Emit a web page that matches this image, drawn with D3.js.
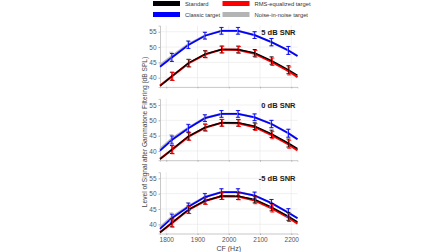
<!DOCTYPE html>
<html>
<head>
<meta charset="utf-8">
<script src="https://cdn.jsdelivr.net/npm/d3@7"></script>
<style>
  html, body { margin: 0; padding: 0; background: #fff; }
  svg { display: block; font-family: "Liberation Sans", Arial, sans-serif; }
</style>
</head>
<body>
<svg id="chart" width="448" height="252"></svg>
<script>
// CF positions of the measured points, plus the edge values where lines meet the axes
const cfHz = [1818, 1871, 1924, 1977, 2030, 2083, 2137, 2191];
const edgeHz = [1780, 2220];
const panelTitles = ["5 dB SNR", "0 dB SNR", "-5 dB SNR"];
const xTicks = [1800, 1900, 2000, 2100, 2200];
const yTicks = [40, 45, 50, 55];

// Standard and RMS-equalized targets (same in every panel)
const standard = [40.5, 44.8, 47.7, 49.2, 49.2, 48.1, 45.6, 42.6];
const standardEdges = [37.3, 40.8];
const rmsEq = [40.4, 44.7, 47.6, 49.2, 49.1, 47.8, 45.2, 42.2];
const rmsEqEdges = [37.4, 40.2];

// Classic target, one array per panel (5, 0, -5 dB SNR)
const classic5 = [46.6, 50.7, 53.7, 55.3, 55.3, 53.9, 51.6, 48.9];
const classic0 = [43.6, 47.4, 50.7, 52.1, 52.1, 51.0, 48.8, 45.8];
const classicM5 = [42.0, 45.7, 48.9, 50.5, 50.5, 49.4, 46.9, 43.8];
const classicEdges = [[43.6, 47.1], [40.1, 43.8], [38.5, 42.0]];

// Noise-in-noise target
const noise5 = [47.0, 50.9, 53.8, 55.3, 55.3, 53.9, 51.6, 48.9];
const noise0 = [44.0, 47.6, 50.8, 52.1, 52.1, 51.0, 48.8, 45.8];
const noiseM5 = [42.4, 45.9, 49.0, 50.5, 50.5, 49.4, 46.9, 43.8];
const noiseEdges = [[44.1, 47.1], [40.6, 43.8], [39.0, 42.0]];

// Error bar half-lengths (dB)
const errHalf = [1.3, 1.2, 1.1, 1.1, 1.1, 1.1, 1.2, 1.3];

const legendItems = [
  { label: "Standard", color: "#000000" },
  { label: "RMS-equalized target", color: "#ff0000" },
  { label: "Classic target", color: "#0000ff" },
  { label: "Noise-in-noise target", color: "#b4b4b4" },
];

const svg = d3.select("#chart");
const left = 160, right = 297.5;
const panelTop = [25.6, 98.9, 172.2];
const panelH = 61.3;

const x = d3.scaleLinear().domain([1780, 2220]).range([left, right]);

const classicByPanel = [classic5, classic0, classicM5];
const noiseByPanel = [noise5, noise0, noiseM5];

function seriesPoints(vals, edges) {
  return [[edgeHz[0], edges[0]], ...cfHz.map((f, i) => [f, vals[i]]), [edgeHz[1], edges[1]]];
}

panelTitles.forEach((title, p) => {
  const top = panelTop[p];
  const y = d3.scaleLinear().domain([37, 57]).range([top + panelH, top]);
  const g = svg.append("g");

  // grid
  g.append("g").selectAll("line").data(xTicks).join("line")
    .attr("x1", (d) => x(d)).attr("x2", (d) => x(d))
    .attr("y1", top).attr("y2", top + panelH)
    .attr("stroke", "#e6e6e6").attr("stroke-width", 0.6);
  g.append("g").selectAll("line").data(yTicks).join("line")
    .attr("x1", left).attr("x2", right)
    .attr("y1", (d) => y(d)).attr("y2", (d) => y(d))
    .attr("stroke", "#e6e6e6").attr("stroke-width", 0.6);

  // axes
  const yAxis = g.append("g").attr("transform", `translate(${left},0)`)
    .call(d3.axisLeft(y).tickValues(yTicks).tickSize(1.5).tickPadding(2));
  yAxis.select(".domain").attr("stroke", "#b0b0b0").attr("stroke-width", 0.7);
  yAxis.selectAll(".tick line").attr("stroke", "#b0b0b0");
  yAxis.selectAll("text").attr("font-size", 6.5).attr("fill", "#555");

  const xAxis = g.append("g").attr("transform", `translate(0,${top + panelH})`)
    .call(d3.axisBottom(x).tickValues(xTicks).tickSize(1.5).tickPadding(2)
      .tickFormat(p === 2 ? d3.format("d") : () => ""));
  xAxis.select(".domain").attr("stroke", "#b0b0b0").attr("stroke-width", 0.7);
  xAxis.selectAll(".tick line").attr("stroke", "#b0b0b0");
  xAxis.selectAll("text").attr("font-size", 6.5).attr("fill", "#555");

  const line = d3.line().x((d) => x(d[0])).y((d) => y(d[1]));
  const series = [
    { vals: noiseByPanel[p], edges: noiseEdges[p], color: "#b4b4b4", w: 2.2 },
    { vals: classicByPanel[p], edges: classicEdges[p], color: "#0000ff", w: 1.8 },
    { vals: rmsEq, edges: rmsEqEdges, color: "#ff0000", w: 2.2 },
    { vals: standard, edges: standardEdges, color: "#000000", w: 1.4 },
  ];

  const clip = g.append("g");
  series.forEach((s) => {
    clip.append("path")
      .datum(seriesPoints(s.vals, s.edges))
      .attr("d", line)
      .attr("fill", "none")
      .attr("stroke", s.color)
      .attr("stroke-width", s.w);
  });

  // error bars
  const errOrder = [series[0], series[1], series[3], series[2]];
  errOrder.forEach((s, k) => {
    const dx = k === 3 ? 0.8 : k === 0 ? -0.6 : 0;
    const eg = g.append("g").attr("stroke", s.color).attr("stroke-width", 0.9);
    cfHz.forEach((f, i) => {
      const cx = x(f) + dx;
      const y0 = y(s.vals[i] - errHalf[i]);
      const y1 = y(s.vals[i] + errHalf[i]);
      eg.append("line").attr("x1", cx).attr("x2", cx).attr("y1", y0).attr("y2", y1);
      eg.append("line").attr("x1", cx - 2).attr("x2", cx + 2).attr("y1", y0).attr("y2", y0);
      eg.append("line").attr("x1", cx - 2).attr("x2", cx + 2).attr("y1", y1).attr("y2", y1);
    });
  });

  // panel title
  g.append("text")
    .attr("x", right - 2)
    .attr("y", top + 9)
    .attr("text-anchor", "end")
    .attr("font-size", 7.5)
    .attr("font-weight", 700)
    .attr("fill", "#222")
    .text(title);
});

// x label
svg.append("text")
  .attr("x", (left + right) / 2)
  .attr("y", 251)
  .attr("text-anchor", "middle")
  .attr("font-size", 7)
  .attr("fill", "#444")
  .text("CF (Hz)");

// y label
svg.append("text")
  .attr("transform", `translate(147,${132}) rotate(-90)`)
  .attr("text-anchor", "middle")
  .attr("font-size", 6.6)
  .attr("fill", "#444")
  .text("Level of Signal after Gammatone Filtering (dB SPL)");

// legend
const legend = svg.append("g");
legendItems.forEach((item, i) => {
  const col = i % 2, row = Math.floor(i / 2);
  const lx = col === 0 ? 153 : 222.5;
  const ly = row === 0 ? 3.5 : 14.5;
  legend.append("rect")
    .attr("x", lx).attr("y", ly - 2.5)
    .attr("width", 27).attr("height", 5)
    .attr("fill", item.color);
  legend.append("text")
    .attr("x", lx + 32).attr("y", ly + 2)
    .attr("font-size", 5.8)
    .attr("fill", "#333")
    .text(item.label);
});
</script>
</body>
</html>
